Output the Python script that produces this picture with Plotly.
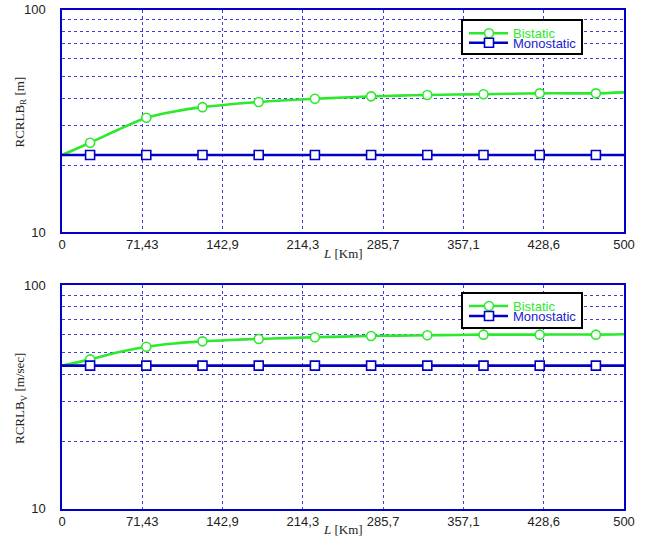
import plotly.graph_objects as go

# Baseline length L [Km], sampled every 25 Km
L_km = [0, 25, 50, 75, 100, 125, 150, 175, 200, 225, 250,
        275, 300, 325, 350, 375, 400, 425, 450, 475, 500]

# Range RCRLB [m]
range_bistatic = [22.2, 25.2, 28.8, 32.6, 34.8, 36.4, 37.5, 38.4, 39.1, 39.7, 40.2,
                  40.7, 41.0, 41.3, 41.5, 41.6, 41.8, 42.0, 42.0, 42.0, 42.4]
range_monostatic = [22.2] * 21

# Velocity RCRLB [m/sec]
vel_bistatic = [43.6, 46.5, 50.0, 53.0, 54.8, 56.0, 56.8, 57.4, 57.9, 58.4, 58.8,
                59.2, 59.4, 59.6, 59.8, 60.0, 60.0, 60.0, 60.1, 60.0, 60.2]
vel_monostatic = [43.6] * 21

# Markers are drawn every other sample (25, 75, ..., 475 Km)
marker_idx = list(range(1, 21, 2))

x_tickvals = [0, 500 / 7, 1000 / 7, 1500 / 7, 2000 / 7, 2500 / 7, 3000 / 7, 500]
x_ticktext = ["0", "71,43", "142,9", "214,3", "285,7", "357,1", "428,6", "500"]
y_tickvals = [10, 100]
y_ticktext = ["10", "100"]
y_minor = [20, 30, 40, 50, 60, 70, 80, 90]

GREEN = "#2ee82e"
BLUE = "#0000c8"
GRID = "rgba(30,30,210,0.85)"

W, H = 657, 540
PL, PR = 62, 624           # plot area left/right in pixels
PANELS = [(9.5, 232.0), (285.0, 508.7)]   # top/bottom pixel of each panel

fig = go.Figure()

series = [
    ("x", "y", range_bistatic, range_monostatic),
    ("x2", "y2", vel_bistatic, vel_monostatic),
]

for xa, ya, bi, mono in series:
    for vals, color, symbol in [(bi, GREEN, "circle"), (mono, BLUE, "square")]:
        fig.add_trace(go.Scatter(
            x=L_km, y=vals, xaxis=xa, yaxis=ya, mode="lines",
            line=dict(color=color, width=2.6, shape="spline", smoothing=0.8),
            showlegend=False, hoverinfo="skip"))
        fig.add_trace(go.Scatter(
            x=[L_km[i] for i in marker_idx], y=[vals[i] for i in marker_idx],
            xaxis=xa, yaxis=ya, mode="markers",
            marker=dict(symbol=symbol, size=9, color="white",
                        line=dict(color=color, width=1.6)),
            showlegend=False, hoverinfo="skip"))


def dom(top, bottom):
    return [(509 - bottom) / 500, (509 - top) / 500]


xaxis_common = dict(
    range=[0, 500], tickmode="array", tickvals=x_tickvals, ticktext=x_ticktext,
    showline=True, mirror=True, linecolor=BLUE, linewidth=1.5,
    showgrid=True, gridcolor=GRID, griddash="dot", gridwidth=1,
    ticks="", zeroline=False, automargin=False,
    tickfont=dict(family="Liberation Sans, Arial", size=13, color="#222"),
)
yaxis_common = dict(
    type="log", range=[1, 2], tickmode="array", tickvals=y_tickvals, ticktext=y_ticktext,
    showline=True, mirror=True, linecolor=BLUE, linewidth=1.5,
    showgrid=False, ticks="", zeroline=False, ticklabelstandoff=12, automargin=False,
    tickfont=dict(family="Liberation Sans, Arial", size=13, color="#222"),
    minor=dict(tickmode="array", tickvals=y_minor, showgrid=True,
               gridcolor=GRID, griddash="dot", gridwidth=1, ticks=""),
)

(t1, b1), (t2, b2) = PANELS
fig.update_layout(
    width=W, height=H,
    margin=dict(l=PL, r=W - PR, t=9, b=H - 509),
    paper_bgcolor="white", plot_bgcolor="white",
    xaxis=dict(domain=[0, 1], anchor="y", **xaxis_common),
    yaxis=dict(domain=dom(t1, b1), anchor="x", **yaxis_common),
    xaxis2=dict(domain=[0, 1], anchor="y2", **xaxis_common),
    yaxis2=dict(domain=dom(t2, b2), anchor="x2", **yaxis_common),
)

pw = PR - PL


def fx(px):
    return (px - PL) / pw


shapes = []
annotations = []
titles = ["RCRLB<sub>R</sub> [m]", "RCRLB<sub>V</sub> [m/sec]"]
names = [("Bistatic", GREEN, "circle"), ("Monostatic", BLUE, "rect")]
# legend rows (pixels below panel top) and box extents
legend_rows = [(23.8, 33.2), (21.0, 31.0)]
legend_box = [(10.5, 44.5), (8.0, 43.0)]
title_centres = [112.5, 399.0]

for k, ((top, bottom), (xa, ya)) in enumerate(zip(PANELS, [("x", "y"), ("x2", "y2")])):
    ph = bottom - top

    def fy(py, top=top, ph=ph):
        return (top + ph - py) / ph

    xr, yr = f"{xa} domain", f"{ya} domain"
    bt, bb = legend_box[k]
    shapes.append(dict(type="rect", xref=xr, yref=yr,
                       x0=fx(462), x1=fx(582), y0=fy(top + bb), y1=fy(top + bt),
                       line=dict(color="black", width=2), fillcolor="white", layer="above"))
    for (name, color, sym), row in zip(names, legend_rows[k]):
        yy = fy(top + row)
        shapes.append(dict(type="line", xref=xr, yref=yr, x0=fx(469), x1=fx(508),
                           y0=yy, y1=yy, line=dict(color=color, width=2.6), layer="above"))
        shapes.append(dict(type=sym, xref=xr, yref=yr, xsizemode="pixel", ysizemode="pixel",
                           xanchor=fx(489), yanchor=yy, x0=-4.5, x1=4.5, y0=-4.5, y1=4.5,
                           fillcolor="white", line=dict(color=color, width=1.6), layer="above"))
        annotations.append(dict(text=name, xref=xr, yref=yr, x=fx(511), y=fy(top + row + 0.5),
                                xanchor="left", yanchor="middle", showarrow=False,
                                font=dict(family="Liberation Sans, Arial", size=13,
                                          color=color if color == GREEN else "#2222cc")))
    # x-axis title
    annotations.append(dict(text="<i>L</i> [Km]", xref="paper", yref="paper",
                            x=0.5, y=(509 - (bottom + 21)) / 500, xanchor="center",
                            yanchor="middle", showarrow=False,
                            font=dict(family="Liberation Serif, Times New Roman", size=13,
                                      color="#222")))
    # y-axis title
    annotations.append(dict(text=titles[k], xref="paper", yref="paper",
                            x=(20 - PL) / pw, y=(509 - title_centres[k]) / 500,
                            xanchor="center", yanchor="middle", textangle=-90,
                            showarrow=False,
                            font=dict(family="Liberation Serif, Times New Roman", size=13,
                                      color="#222")))

fig.update_layout(shapes=shapes, annotations=annotations)
fig.write_html("out.html")
